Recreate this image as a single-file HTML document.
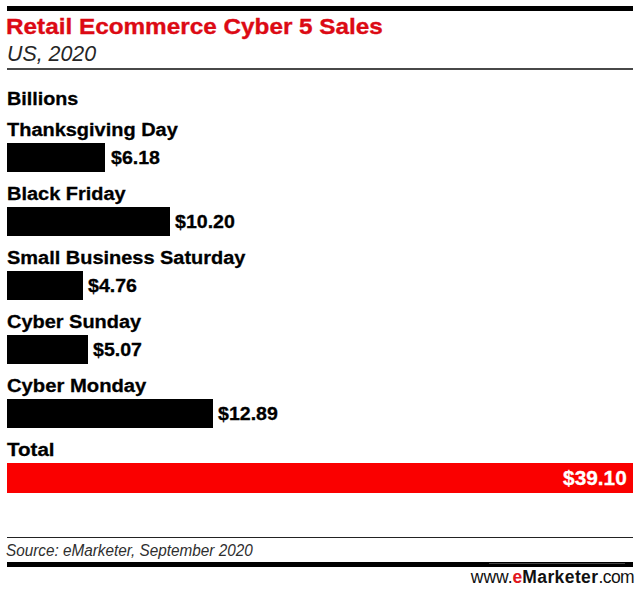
<!DOCTYPE html>
<html>
<head>
<meta charset="utf-8">
<style>
html,body{margin:0;padding:0;background:#fff;}
body{width:640px;height:595px;position:relative;overflow:hidden;font-family:"Liberation Sans",Arial,sans-serif;color:#000;}
.abs{position:absolute;white-space:nowrap;}
.rule-top{left:7px;top:6px;width:626px;height:5px;background:#000;}
.title{left:5.6px;top:11.8px;font-size:22.8px;font-weight:bold;color:#dc0a14;-webkit-text-stroke:0.35px #dc0a14;line-height:28px;transform:scaleX(1.066);transform-origin:0 0;}
.sub{left:6.5px;top:41.5px;font-size:22.4px;font-style:italic;color:#262626;line-height:24px;transform:scaleX(0.955);transform-origin:0 0;}
.rule-thin{left:7px;top:68px;width:626px;height:2px;background:#484848;}
.lbl{left:7px;font-size:19.2px;font-weight:bold;-webkit-text-stroke:0.3px #000;line-height:24px;transform:scaleX(1.04);transform-origin:0 0;}
.bar{left:7px;height:29.6px;background:#000;}
.val{font-size:19.2px;font-weight:bold;-webkit-text-stroke:0.3px #000;line-height:24px;transform:scaleX(1.02);transform-origin:0 0;}
.total{left:7px;top:462.5px;width:626px;height:30px;background:#fa0000;}
.tval{right:13.3px;top:465.5px;font-size:20.8px;font-weight:bold;color:#fff;-webkit-text-stroke:0.3px #fff;line-height:24px;transform:scaleX(1.0);transform-origin:100% 0;}
.rule-src{left:7px;top:536.5px;width:626px;height:1.5px;background:#222;}
.src{left:6.3px;top:541px;font-size:16.3px;font-style:italic;color:#2e2e2e;line-height:18px;transform:scaleX(0.94);transform-origin:0 0;}
.rule-bot{left:7px;top:562.4px;width:626px;height:5px;background:#000;}
.wm{left:489px;top:562.6px;width:136px;height:1.6px;background:rgba(255,255,255,0.28);}
.url{right:6px;top:567px;font-size:17.5px;color:#111;line-height:20px;}
.url b{font-weight:bold;}
.url .e{color:#e0161e;}
</style>
</head>
<body>
<div class="abs rule-top"></div>
<div class="abs title">Retail Ecommerce Cyber 5 Sales</div>
<div class="abs sub">US, 2020</div>
<div class="abs rule-thin"></div>

<div class="abs lbl" style="top:86.8px;transform:scaleX(1.029)">Billions</div>

<div class="abs lbl" style="top:117.8px">Thanksgiving Day</div>
<div class="abs bar" style="top:142.7px;width:98.3px"></div>
<div class="abs val" style="left:110.8px;top:145.6px">$6.18</div>

<div class="abs lbl" style="top:181.8px">Black Friday</div>
<div class="abs bar" style="top:206.7px;width:162.6px"></div>
<div class="abs val" style="left:175.3px;top:209.6px">$10.20</div>

<div class="abs lbl" style="top:245.8px">Small Business Saturday</div>
<div class="abs bar" style="top:270.7px;width:75.8px"></div>
<div class="abs val" style="left:87.8px;top:273.6px">$4.76</div>

<div class="abs lbl" style="top:309.8px">Cyber Sunday</div>
<div class="abs bar" style="top:334.7px;width:80.8px"></div>
<div class="abs val" style="left:92.8px;top:337.6px">$5.07</div>

<div class="abs lbl" style="top:373.8px;transform:scaleX(1.054)">Cyber Monday</div>
<div class="abs bar" style="top:398.7px;width:206.4px"></div>
<div class="abs val" style="left:218.3px;top:401.6px">$12.89</div>

<div class="abs lbl" style="top:437.8px;transform:scaleX(1.07)">Total</div>
<div class="abs total"></div>
<div class="abs tval">$39.10</div>

<div class="abs rule-src"></div>
<div class="abs src">Source: eMarketer, September 2020</div>
<div class="abs rule-bot"></div>
<div class="abs wm"></div>
<div class="abs url">www.<b class="e">e</b><b style="letter-spacing:0.4px">Marketer</b><span style="letter-spacing:-0.6px">.com</span></div>
</body>
</html>
